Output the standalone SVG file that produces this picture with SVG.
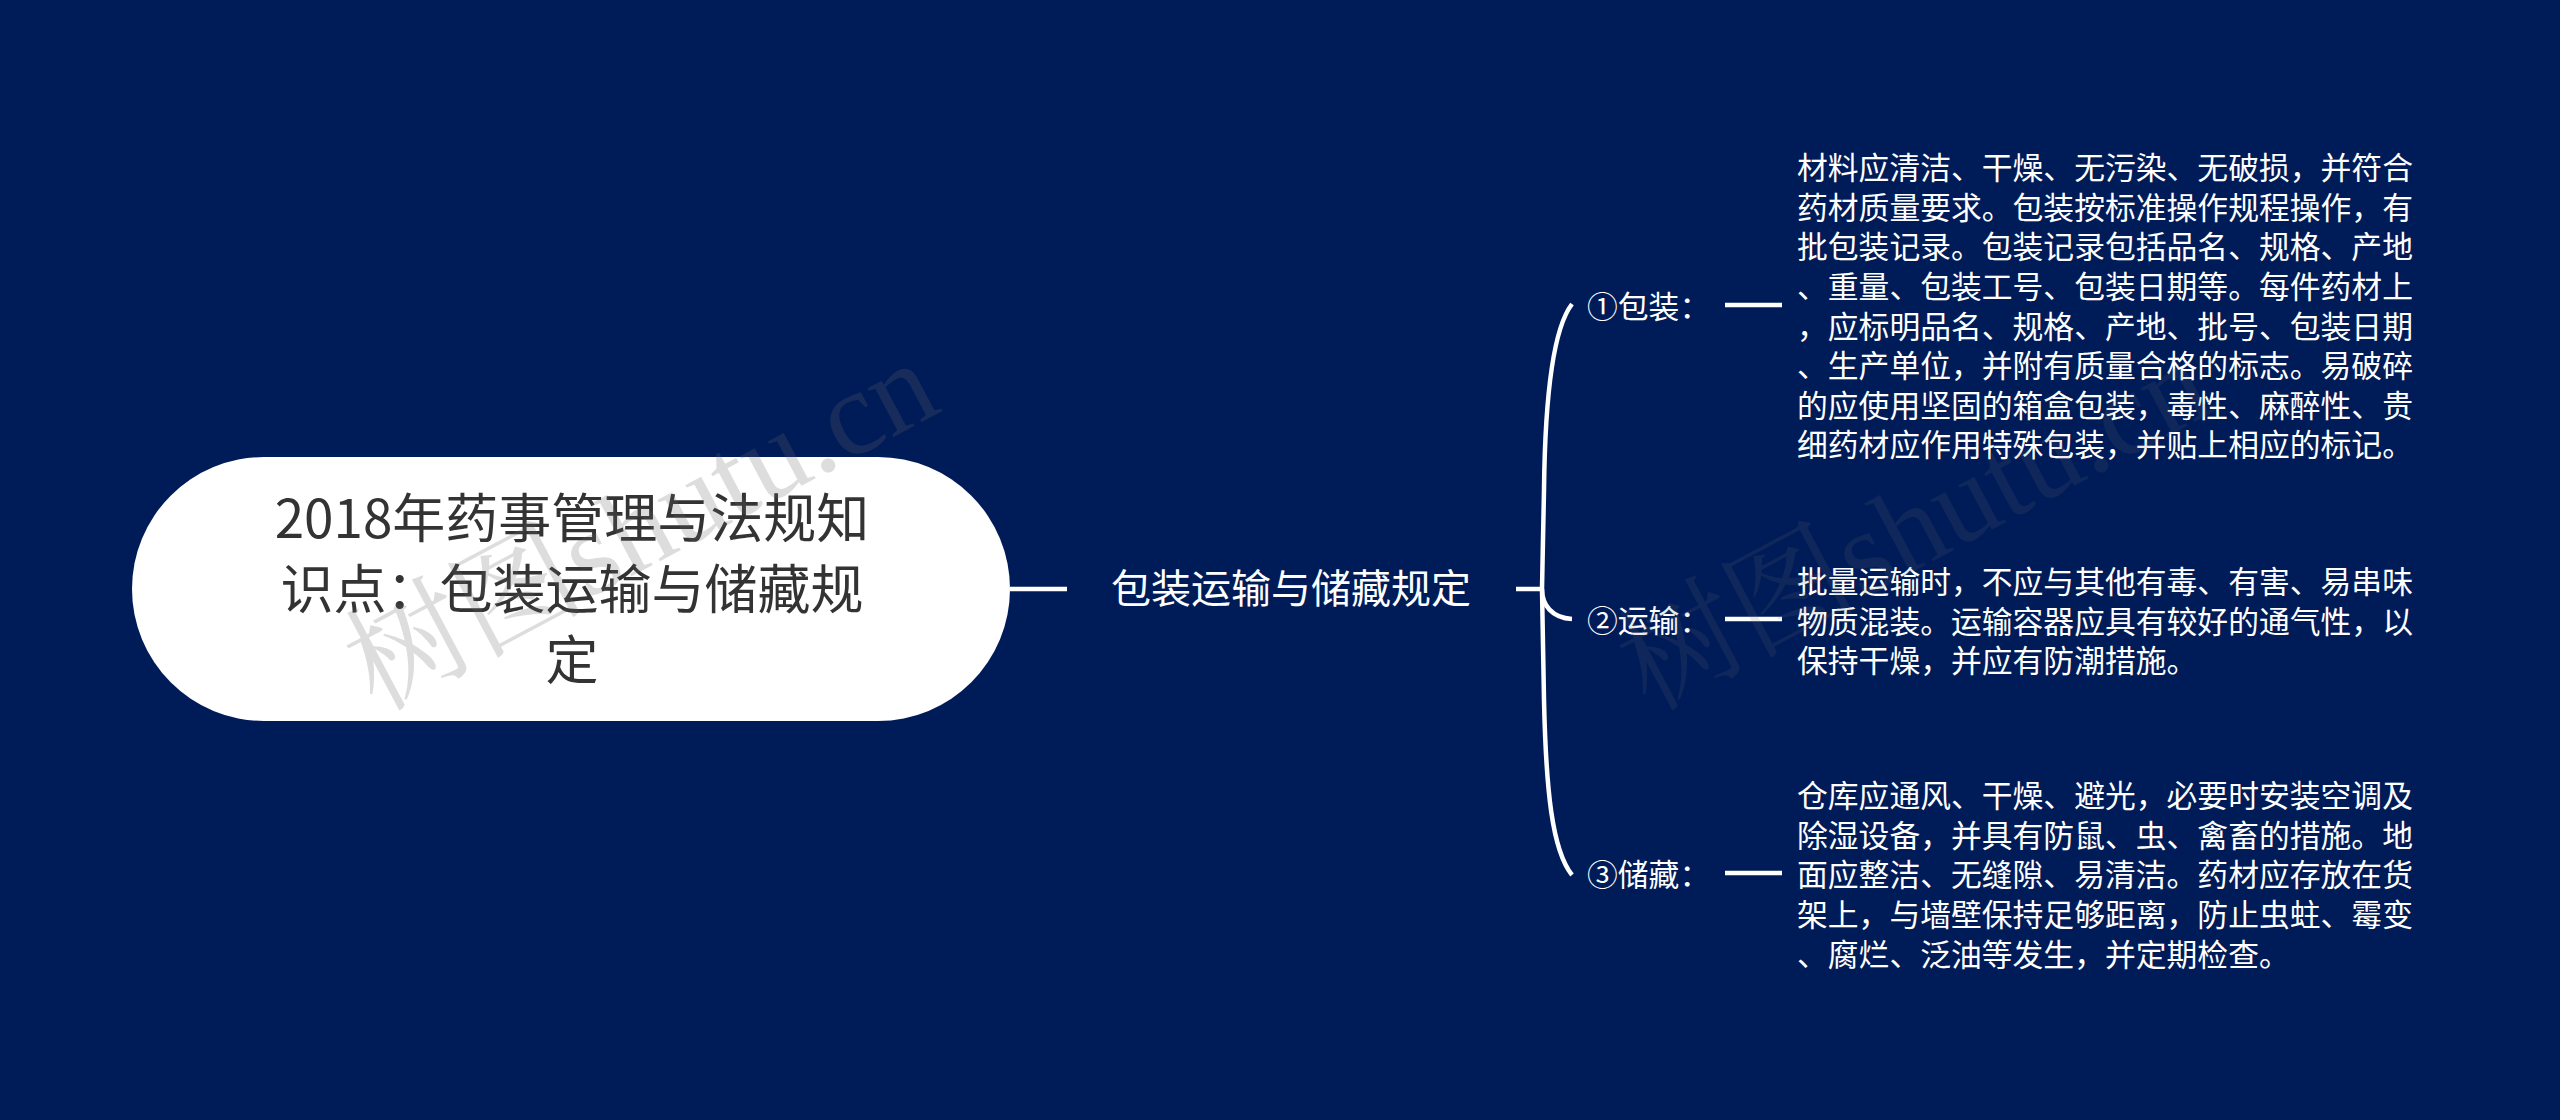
<svg xmlns="http://www.w3.org/2000/svg" width="2560" height="1120" viewBox="0 0 2560 1120">
<style>
text{font-family:"Noto Sans CJK SC","Liberation Sans",sans-serif}
.t{font-size:53px;fill:#333;text-anchor:middle}
.s{font-size:40px;fill:#fff;text-anchor:middle}
.l,.d{font-size:30.8px;fill:#fff}
.c{fill:none;stroke:#fff;stroke-width:4.5;stroke-linecap:butt}
.w{font-family:"Liberation Serif","Noto Serif CJK SC","Noto Sans CJK SC",serif;font-size:120px;fill:#686868;fill-opacity:.225}
</style>
<rect width="2560" height="1120" fill="#001c58"/>
<g id="connectors">
<path class="c" d="M1010 589H1067"/>
<path class="c" d="M1516 589H1542"/>
<path class="c" d="M1572 304C1552 330 1545 400 1544 490L1542 589C1542 605 1552 618 1572 619"/>
<path class="c" d="M1542 589L1544 700C1546 790 1552 850 1572 875"/>
<path class="c" d="M1725 305H1782"/>
<path class="c" d="M1725 619H1782"/>
<path class="c" d="M1725 873H1782"/>
</g>
<g id="root">
<rect x="132" y="457" width="878" height="264" rx="132" fill="#fff"/>
<text class="t" x="572" y="538">2018年药事管理与法规知</text>
<text class="t" x="572" y="609">识点：包装运输与储藏规</text>
<text class="t" x="572" y="680">定</text>
</g>
<g id="branch"><text class="s" x="1291" y="603">包装运输与储藏规定</text></g>
<g id="n1"><text class="l" x="1587" y="318">①包装：</text></g>
<g id="n2"><text class="l" x="1587" y="632">②运输：</text></g>
<g id="n3"><text class="l" x="1587" y="886">③储藏：</text></g>
<g id="d1">
<text class="d" x="1797" y="179">材料应清洁、干燥、无污染、无破损，并符合</text>
<text class="d" x="1797" y="219">药材质量要求。包装按标准操作规程操作，有</text>
<text class="d" x="1797" y="258">批包装记录。包装记录包括品名、规格、产地</text>
<text class="d" x="1797" y="298">、重量、包装工号、包装日期等。每件药材上</text>
<text class="d" x="1797" y="338">，应标明品名、规格、产地、批号、包装日期</text>
<text class="d" x="1797" y="377">、生产单位，并附有质量合格的标志。易破碎</text>
<text class="d" x="1797" y="417">的应使用坚固的箱盒包装，毒性、麻醉性、贵</text>
<text class="d" x="1797" y="456">细药材应作用特殊包装，并贴上相应的标记。</text>
</g>
<g id="d2">
<text class="d" x="1797" y="593">批量运输时，不应与其他有毒、有害、易串味</text>
<text class="d" x="1797" y="633">物质混装。运输容器应具有较好的通气性，以</text>
<text class="d" x="1797" y="672">保持干燥，并应有防潮措施。</text>
</g>
<g id="d3">
<text class="d" x="1797" y="807">仓库应通风、干燥、避光，必要时安装空调及</text>
<text class="d" x="1797" y="847">除湿设备，并具有防鼠、虫、禽畜的措施。地</text>
<text class="d" x="1797" y="886">面应整洁、无缝隙、易清洁。药材应存放在货</text>
<text class="d" x="1797" y="926">架上，与墙壁保持足够距离，防止虫蛀、霉变</text>
<text class="d" x="1797" y="966">、腐烂、泛油等发生，并定期检查。</text>
</g>
<g id="watermarks">
<text class="w" transform="translate(376 712) rotate(-28)">树图shutu.cn</text>
<text class="w" transform="translate(1649 712) rotate(-28)" style="fill-opacity:.14">树图shutu.cn</text>
</g>
</svg>
